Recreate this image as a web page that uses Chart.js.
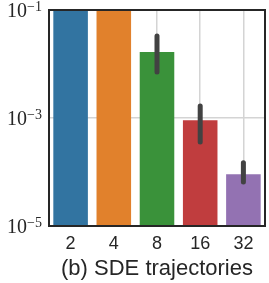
<!DOCTYPE html>
<html>
<head>
<meta charset="utf-8">
<script src="https://cdn.jsdelivr.net/npm/chart.js@4/dist/chart.umd.min.js"></script>
<style>
  html, body { margin: 0; padding: 0; background: #fff; }
  #wrap { width: 269px; height: 283px; }
</style>
</head>
<body>
<div id="wrap"><canvas id="chart"></canvas></div>
<script>
// data
var categories = ["2", "4", "8", "16", "32"];
var values = [0.5, 0.5, 0.0166, 0.00091, 0.000091];
var errLow = [null, null, 0.0071, 0.00036, 0.000065];
var errHigh = [null, null, 0.033, 0.00166, 0.000148];
var yTicks = [1e-5, 1e-3, 1e-1];
var yTickExp = ["\u22125", "\u22123", "\u22121"];
var barColors = ["#3274a1", "#e1812c", "#3a923a", "#c03d3e", "#9372b2"];

// error bars drawn through the y scale
var errorBars = {
    id: 'errorBars',
    afterDatasetsDraw: function (chart) {
        var ctx = chart.ctx;
        var y = chart.scales.y;
        var meta = chart.getDatasetMeta(0);
        var area = chart.chartArea;
        ctx.save();
        ctx.beginPath();
        ctx.rect(area.left, area.top, area.right - area.left, area.bottom - area.top);
        ctx.clip();
        ctx.strokeStyle = '#424242';
        ctx.lineWidth = 5;
        ctx.lineCap = 'round';
        meta.data.forEach(function (bar, i) {
            if (errLow[i] == null) return;
            ctx.beginPath();
            ctx.moveTo(bar.x, y.getPixelForValue(errLow[i]));
            ctx.lineTo(bar.x, y.getPixelForValue(errHigh[i]));
            ctx.stroke();
        });
        ctx.restore();
    }
};

// "10^-n" labels with a raised exponent, placed by the y scale
var powLabels = {
    id: 'powLabels',
    afterDraw: function (chart) {
        var c = chart.ctx;
        var y = chart.scales.y;
        var right = chart.chartArea.left - 7;
        c.save();
        c.fillStyle = '#262626';
        c.textAlign = 'right';
        c.textBaseline = 'alphabetic';
        yTicks.forEach(function (v, i) {
            var py = y.getPixelForValue(v);
            c.font = '14px "Liberation Serif"';
            var ew = c.measureText(yTickExp[i]).width;
            c.fillText(yTickExp[i], right, py + 1);
            c.font = '20px "Liberation Serif"';
            c.fillText("10", right - ew, py + 6.5);
        });
        c.restore();
    }
};

var ctx1 = document.getElementById("chart").getContext("2d");
new Chart(ctx1, {
    type: "bar",
    data: {
        labels: categories,
        datasets: [{
            data: values,
            backgroundColor: barColors,
            borderWidth: 0,
            barPercentage: 0.8,
            categoryPercentage: 1.0
        }]
    },
    options: {
        responsive: true,
        maintainAspectRatio: false,
        animation: false,
        layout: { padding: { top: 10, right: 4, left: 0, bottom: 0 } },
        plugins: {
            legend: { display: false },
            tooltip: { enabled: false }
        },
        scales: {
            x: {
                grid: {
                    offset: false,
                    color: '#d4d4d4',
                    lineWidth: 1.5,
                    drawTicks: false
                },
                border: { display: true, color: '#262626', width: 2 },
                ticks: {
                    color: '#262626',
                    padding: 7,
                    font: { size: 18, family: "Liberation Sans" }
                },
                title: {
                    display: true,
                    text: "(b) SDE trajectories",
                    color: '#262626',
                    padding: { top: 0, bottom: 1 },
                    font: { size: 22, family: "Liberation Sans" }
                },
                afterFit: function (scale) { scale.height = 57; }
            },
            y: {
                type: 'logarithmic',
                min: 1e-5,
                max: 1e-1,
                afterBuildTicks: function (scale) {
                    scale.ticks = yTicks.map(function (v) { return { value: v }; });
                },
                grid: {
                    color: '#d4d4d4',
                    lineWidth: 1.5,
                    drawTicks: false
                },
                border: { display: true, color: '#262626', width: 2 },
                ticks: { display: false },
                afterFit: function (scale) { scale.width = 49; }
            }
        }
    },
    plugins: [errorBars, powLabels, {
        id: 'frame',
        afterDraw: function (chart) {
            var a = chart.chartArea;
            var c = chart.ctx;
            c.save();
            c.strokeStyle = '#262626';
            c.lineWidth = 2;
            c.strokeRect(a.left, a.top, a.right - a.left, a.bottom - a.top);
            c.restore();
        }
    }]
});
</script>
</body>
</html>
